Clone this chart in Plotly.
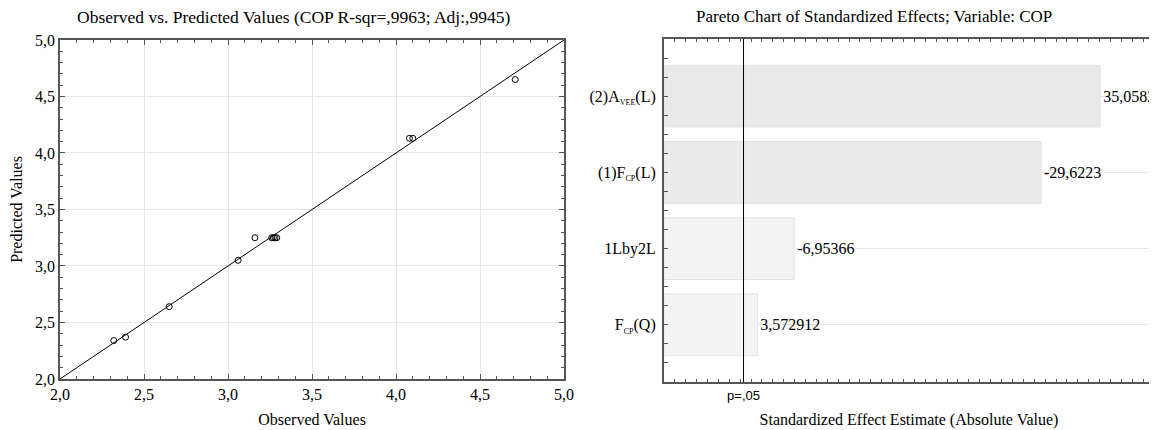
import plotly.graph_objects as go

# ---- data: observed vs predicted ----
observed = [2.32, 2.39, 2.65, 3.06, 3.16, 3.26, 3.27, 3.28, 3.29, 4.08, 4.10, 4.71]
predicted = [2.34, 2.37, 2.64, 3.05, 3.25, 3.25, 3.25, 3.25, 3.25, 4.13, 4.13, 4.65]
axis_min, axis_max = 2.0, 5.0

# ---- data: pareto chart ----
SUBSTYLE = "<sub><span style='font-size:8px'>{}</span></sub>"
effect_labels = ["(2)A" + SUBSTYLE.format("VEE") + "(L)",
                 "(1)F" + SUBSTYLE.format("CP") + "(L)",
                 "1Lby2L",
                 "F" + SUBSTYLE.format("CP") + "(Q)"]
effect_values = [35.0582, -29.6223, -6.95366, 3.572912]
p_critical = 2.306
p_label = "p=,05"

SERIF = "Liberation Serif, Times New Roman, serif"
SANS = "Liberation Sans, Arial, sans-serif"
AX = "#555555"
GRID = "#e6e6e6"

# page body has an 8px margin; figure sized to fit the 1157x430 window
W, H = 1149, 422

fig = go.Figure()

# identity line
fig.add_trace(go.Scatter(x=[axis_min, axis_max], y=[axis_min, axis_max], mode="lines",
                         line=dict(color="black", width=1), xaxis="x", yaxis="y",
                         hoverinfo="skip", showlegend=False))
fig.add_trace(go.Scatter(x=observed, y=predicted, mode="markers",
                         marker=dict(symbol="circle-open", size=6, color="black", line=dict(width=1)),
                         xaxis="x", yaxis="y", showlegend=False))

abs_vals = [abs(v) for v in effect_values]
texts = [str(v).replace(".", ",") for v in effect_values]
ypos = list(range(len(effect_labels)))
fig.add_trace(go.Bar(x=[a + 5 for a in abs_vals], y=ypos, base=-5, orientation="h",
                     width=0.81, text=texts, textposition="outside",
                     textfont=dict(family=SERIF, size=16, color="black"),
                     cliponaxis=False,
                     marker=dict(color=abs_vals, colorscale=[[0, "#f5f5f5"], [1, "#e9e9e9"]],
                                 cmin=0, cmax=36, line=dict(color="#e2e2e2", width=1)),
                     xaxis="x2", yaxis="y2", showlegend=False))

fig.add_shape(type="line", x0=p_critical, x1=p_critical, y0=0, y1=1, xref="x2", yref="y2 domain",
              line=dict(color="black", width=1))

common_axis = dict(showline=True, linecolor=AX, linewidth=1.5, mirror="ticks",
                   ticks="inside", ticklen=5, tickcolor=AX, zeroline=False, automargin=False)

fig.update_layout(
    width=W, height=H,
    margin=dict(l=0, r=0, t=0, b=0, autoexpand=False),
    paper_bgcolor="white", plot_bgcolor="white",
    separators=",.",
    font=dict(family=SERIF, size=16, color="black"),
    xaxis=dict(domain=[0.0453, 0.4839], range=[axis_min, axis_max], dtick=0.5, tickformat=".1f",
               showgrid=True, gridcolor=GRID, anchor="y",
               minor=dict(dtick=0.1, ticks="inside", ticklen=3, tickcolor=AX, showgrid=False),
               title=dict(text="Observed Values", font=dict(size=16), standoff=12),
               **common_axis),
    yaxis=dict(domain=[0.1209, 0.9242], range=[axis_min, axis_max], dtick=0.5, tickformat=".1f",
               showgrid=True, gridcolor=GRID, anchor="x",
               minor=dict(dtick=0.1, ticks="inside", ticklen=3, tickcolor=AX, showgrid=False),
               title=dict(text="Predicted Values", font=dict(size=16), standoff=10),
               **common_axis),
    xaxis2=dict(domain=[0.5709, 0.9974], range=[-5, 40], anchor="y2",
                tickmode="array", tickvals=[p_critical], ticktext=[p_label],
                tickfont=dict(family=SANS, size=13),
                showgrid=False,
                minor=dict(tick0=0, dtick=1, ticks="inside", ticklen=3, tickcolor=AX, showgrid=False),
                title=dict(text="Standardized Effect Estimate (Absolute Value)", font=dict(size=16), standoff=12),
                showline=True, linecolor=AX, linewidth=2, mirror="ticks",
                ticks="", zeroline=False, automargin=False),
    xaxis3=dict(overlaying="x2", range=[-5, 40], anchor="y2", side="bottom",
                tick0=0, dtick=5, ticks="inside", ticklen=5, tickcolor=AX,
                showticklabels=False, showgrid=False, zeroline=False, showline=False,
                mirror="ticks", automargin=False),
    yaxis2=dict(domain=[0.1137, 0.9265], range=[3.75, -0.75], anchor="x2",
                tickmode="array", tickvals=ypos, ticktext=effect_labels,
                showgrid=True, gridcolor=GRID, ticklabelstandoff=3,
                minor=dict(tick0=0, dtick=0.25, ticks="inside", ticklen=4, tickcolor=AX, showgrid=False),
                showline=True, linecolor=AX, linewidth=2, mirror="ticks",
                ticks="inside", ticklen=4, tickcolor=AX, zeroline=False, automargin=False),
    annotations=[
        dict(text="Observed vs. Predicted Values (COP R-sqr=,9963; Adj:,9945)", x=0.2489, y=0.979,
             xref="paper", yref="paper", xanchor="center", yanchor="middle",
             showarrow=False, font=dict(size=17.5)),
        dict(text="Pareto Chart of Standardized Effects; Variable: COP", x=0.7537, y=0.979,
             xref="paper", yref="paper", xanchor="center", yanchor="middle",
             showarrow=False, font=dict(size=17)),
    ],
)

fig.write_html("out.html")
